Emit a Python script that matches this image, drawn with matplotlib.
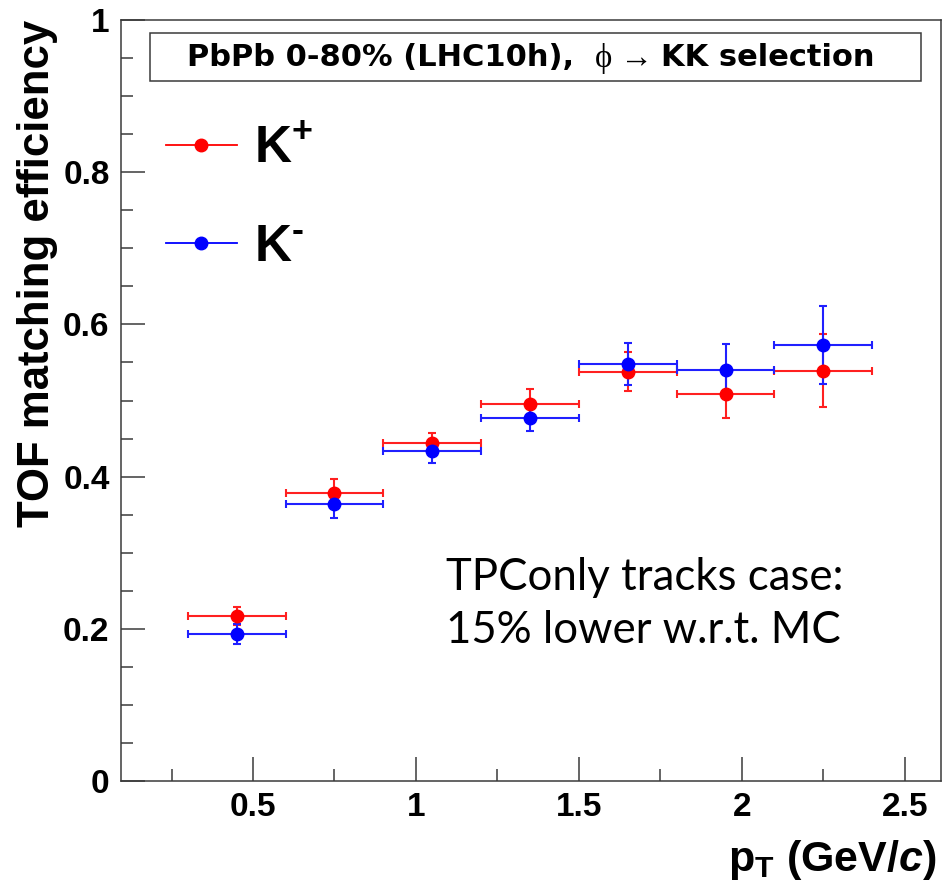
import matplotlib
matplotlib.use("Agg")
import matplotlib.pyplot as plt
from matplotlib.lines import Line2D
from matplotlib.patches import Rectangle
from matplotlib.offsetbox import TextArea, HPacker, AnchoredOffsetbox
from matplotlib.ticker import MultipleLocator, FixedLocator, FuncFormatter

# ---------------- data ----------------
pt = [0.45, 0.75, 1.05, 1.35, 1.65, 1.95, 2.25]
pt_err = [0.15, 0.15, 0.15, 0.15, 0.15, 0.15, 0.15]
eff_kplus = [0.217, 0.379, 0.444, 0.496, 0.538, 0.509, 0.539]
err_kplus = [0.012, 0.018, 0.013, 0.019, 0.026, 0.032, 0.048]
eff_kminus = [0.193, 0.364, 0.434, 0.477, 0.548, 0.540, 0.573]
err_kminus = [0.013, 0.018, 0.016, 0.017, 0.027, 0.034, 0.051]

x_ticks = [0.5, 1.0, 1.5, 2.0, 2.5]
y_ticks = [0.0, 0.2, 0.4, 0.6, 0.8, 1.0]

title_left = "PbPb 0-80% (LHC10h),  "
title_mid = "\u03d5 \u2192 "
title_right = "KK selection"
note_line1 = "TPConly tracks case:"
note_line2 = "15% lower w.r.t. MC"
legend_labels = [r"$\mathbf{K}^{\mathbf{+}}$", "$\\mathbf{K}^{\\mathbf{\u2010}}$"]

# ---------------- style ----------------
plt.rcParams["font.family"] = ["Liberation Sans", "DejaVu Sans"]
plt.rcParams["mathtext.fontset"] = "custom"
plt.rcParams["mathtext.rm"] = "Liberation Sans"
plt.rcParams["mathtext.it"] = "Liberation Sans:italic"
plt.rcParams["mathtext.bf"] = "Liberation Sans:bold"
try:
    plt.rcParams["mathtext.bfit"] = "Liberation Sans:italic:bold"
except KeyError:
    pass

W, H = 945, 883
fig = plt.figure(figsize=(W / 100, H / 100), dpi=100)
ax_left, ax_right, ax_top, ax_bot = 120.7, 941.0, 20.0, 781.0
ax = fig.add_axes([ax_left / W, 1 - ax_bot / H, (ax_right - ax_left) / W, (ax_bot - ax_top) / H])

frame_col = "#3a3a3a"
for s in ax.spines.values():
    s.set_color(frame_col)
    s.set_linewidth(1.1)

ekw = dict(fmt="o", markersize=9, elinewidth=1.5, capsize=3, capthick=1.5)
ax.errorbar(pt, eff_kplus, xerr=pt_err, yerr=err_kplus, color="#ff0000", ecolor="#ff2020", **ekw)
ax.errorbar(pt, eff_kminus, xerr=pt_err, yerr=err_kminus, color="#0000ff", ecolor="#2020ff", **ekw)

ax.set_xlim(0.094, 2.611)
ax.set_ylim(0, 1)
ax.xaxis.set_major_locator(FixedLocator(x_ticks))
ax.xaxis.set_minor_locator(MultipleLocator(0.25))
ax.yaxis.set_major_locator(FixedLocator(y_ticks))
ax.yaxis.set_minor_locator(MultipleLocator(0.05))
fmt = FuncFormatter(lambda v, p: "%g" % v)
ax.xaxis.set_major_formatter(fmt)
ax.yaxis.set_major_formatter(fmt)
ax.tick_params(which="both", direction="in", color=frame_col, width=1.1, top=False, right=False)
ax.tick_params(which="major", length=17.5, labelsize=24, pad=8)
ax.tick_params(which="minor", length=8.5)
for lab in ax.get_xticklabels() + ax.get_yticklabels():
    lab.set_fontweight("bold")

ax.set_ylabel("TOF matching efficiency", fontsize=31.5, fontweight="bold", loc="top")
ax.yaxis.set_label_coords(-0.077, 1.0)
ax.set_xlabel(r"$\mathbf{p}_{\mathbf{T}}$ (GeV/$\mathbfit{c}$)", fontsize=31, fontweight="bold", loc="right")
ax.xaxis.set_label_coords(0.995, -0.075)

# legend
handles = [Line2D([], [], color="#ff0000", marker="o", markersize=9, lw=1.3),
           Line2D([], [], color="#0000ff", marker="o", markersize=9, lw=1.3)]
leg = ax.legend(handles, legend_labels, loc="upper left",
                bbox_to_anchor=(166 / W, 1 - 125 / H), bbox_transform=fig.transFigure,
                frameon=False, borderpad=0, borderaxespad=0, handlelength=1.38,
                handletextpad=0.33, labelspacing=0.96,
                prop=dict(family="Liberation Sans", weight="bold", size=37))

# title box
fig.patches.append(Rectangle((150 / W, 1 - 81 / H), (921 - 150) / W, (81 - 33) / H,
                             transform=fig.transFigure, fill=False, edgecolor=frame_col,
                             linewidth=1.1, figure=fig))
tp_bold = dict(family="DejaVu Sans", fontweight="bold", fontsize=22, color="black")
tp_serif = dict(family=["Liberation Serif", "DejaVu Serif"], fontsize=23.5, color="black")
hp = HPacker(children=[TextArea(title_left, textprops=tp_bold),
                       TextArea(title_mid, textprops=tp_serif),
                       TextArea(title_right, textprops=tp_bold)],
             align="baseline", pad=0, sep=0)
ab = AnchoredOffsetbox(loc="center", child=hp, pad=0, borderpad=0, frameon=False,
                       bbox_to_anchor=(531 / W, 1 - 58 / H), bbox_transform=fig.transFigure)
fig.add_artist(ab)

# note
note_kw = dict(family=["Lato", "DejaVu Sans"], fontsize=31.5, color="black", ha="left", va="baseline")
fig.text(446 / W, 1 - 590 / H, note_line1, **note_kw)
fig.text(446 / W, 1 - 643 / H, note_line2, **note_kw)

fig.savefig("out.png", dpi=100)
